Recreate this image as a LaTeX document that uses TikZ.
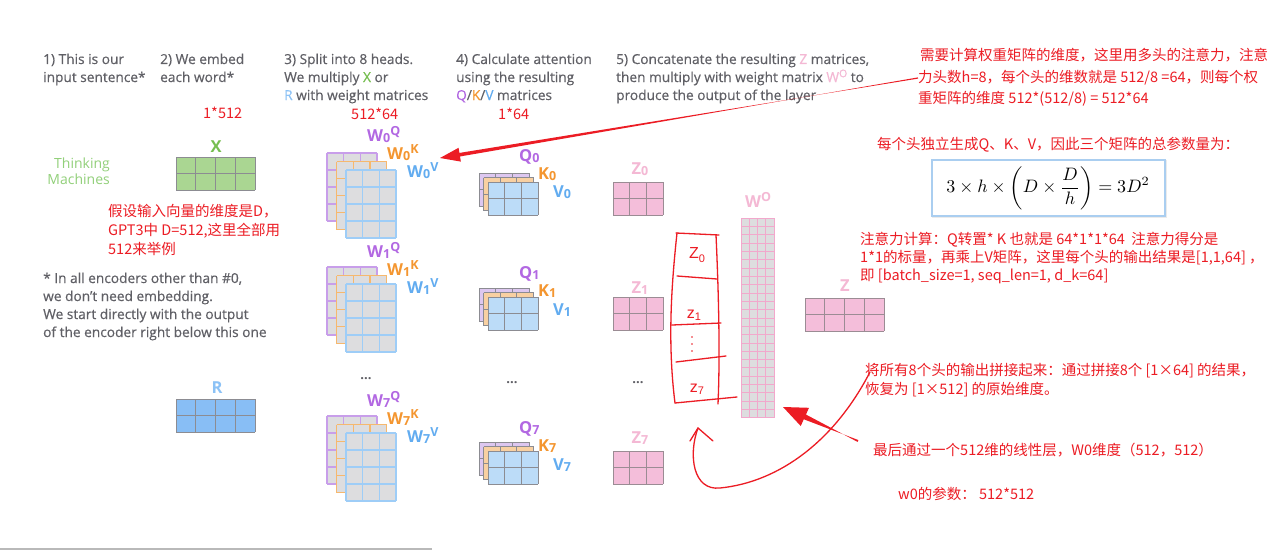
\documentclass[tikz,border=0pt]{standalone}
\usepackage{fontspec}
\newfontfamily\os{Open Sans}
\newfontfamily\osh[FakeBold=0.45]{Open Sans}
\newfontfamily\cjk{Noto Sans CJK SC}
\newfontfamily\hw{Liberation Sans}
\usetikzlibrary{arrows.meta,calc}
\definecolor{hgray}{RGB}{96,96,102}
\definecolor{cgreen}{RGB}{118,190,80}
\definecolor{tgreen}{RGB}{146,208,122}
\definecolor{xfill}{RGB}{170,214,146}
\definecolor{cblue}{RGB}{98,172,240}
\definecolor{rblue}{RGB}{140,194,246}
\definecolor{rfill}{RGB}{136,190,245}
\definecolor{cpurple}{RGB}{178,104,226}
\definecolor{corange}{RGB}{244,150,48}
\definecolor{cpink}{RGB}{244,184,212}
\definecolor{cred}{RGB}{236,28,36}
\definecolor{cellgray}{RGB}{221,221,223}
\definecolor{lpurple}{RGB}{200,158,234}
\definecolor{lorange}{RGB}{246,184,110}
\definecolor{lblue}{RGB}{158,205,247}
\definecolor{qpurple}{RGB}{221,199,240}
\definecolor{korange}{RGB}{248,208,162}
\definecolor{vblue}{RGB}{188,220,248}
\definecolor{zpink}{RGB}{244,190,218}
\definecolor{wpink}{RGB}{242,168,204}
\definecolor{gridgray}{RGB}{140,140,146}
\definecolor{zgrid}{RGB}{155,140,148}
\definecolor{boxblue}{RGB}{170,206,240}
\newcommand\mgrid[8]{%
  \fill[#7] (#1,#2) rectangle ++({#3*#5},{#4*#6});
  \foreach \ii in {0,...,#3}{\draw[#8] ({#1+\ii*#5},#2) -- ++(0,{#4*#6});}
  \foreach \jj in {0,...,#4}{\draw[#8] (#1,{#2+\jj*#6}) -- ++({#3*#5},0);}
}
\newcommand\wl[3]{#1\raisebox{-0.12em}{\fontsize{12.5}{13}\selectfont #2}\raisebox{0.32em}{\fontsize{12.5}{13}\selectfont #3}}
\newcommand\Whead[1]{%
  \mgrid{327}{#1}{3}{4}{16.7}{17}{cellgray}{lpurple,line width=1.3}
  \mgrid{336.5}{#1+8.5}{3}{4}{16.7}{17}{cellgray}{lorange,line width=1.3}
  \mgrid{346}{#1+17}{3}{4}{16.7}{17}{cellgray}{lblue,line width=1.3}
}
\newcommand\QKVhead[1]{%
  \mgrid{479}{#1}{3}{2}{16.7}{16.5}{qpurple}{gridgray,line width=0.9}
  \mgrid{483.5}{#1+4.5}{3}{2}{16.7}{16.5}{korange}{gridgray,line width=0.9}
  \mgrid{488}{#1+9}{3}{2}{16.7}{16.5}{vblue}{gridgray,line width=0.9}
}
\tikzset{
  head/.style={anchor=base west, inner sep=0, text=hgray, font=\osh\fontsize{13.7}{16}\selectfont},
  redt/.style={anchor=base west, inner sep=0, text=cred, font=\cjk\fontsize{14.5}{17}\selectfont},
  lab/.style={anchor=base west, inner sep=0, font=\os\bfseries\fontsize{16.5}{18}\selectfont},
  hand/.style={draw=cred, line width=1.3, line cap=round, line join=round},
  handtxt/.style={inner sep=0, text=cred, font=\hw\fontsize{16}{18}\selectfont},
  dots/.style={inner sep=0, text=hgray, font=\os\bfseries\fontsize{13}{13}\selectfont},
}
\begin{document}
\begin{tikzpicture}[x=1pt,y=-1pt]
\useasboundingbox (0,0) rectangle (1280,551);
\fill[white] (0,0) rectangle (1280,551);

% headings
\node[head] (h1a) at (43,64) {1) This is our};
\node[head] (h1b) at (43,82) {input sentence*};
\node[head] (h2a) at (160,64) {2) We embed};
\node[head] (h2b) at (160,82) {each word*};
\node[head] (h3a) at (284,64) {3) Split into 8 heads.};
\node[head] (h3b) at (284,82) {We multiply \textcolor{cgreen}{X} or};
\node[head] (h3c) at (284,100) {\textcolor{rblue}{R} with weight matrices};
\node[head] (h4a) at (456,64) {4) Calculate attention};
\node[head] (h4b) at (456,82) {using the resulting};
\node[head] (h4c) at (456,100) {\textcolor{cpurple}{Q}/\textcolor{corange}{K}/\textcolor{cblue}{V} matrices};
\node[head] (h5a) at (616,64) {5) Concatenate the resulting \textcolor{cpink}{Z} matrices,};
\node[head] (h5b) at (616,82) {then multiply with weight matrix \textcolor{cpink}{W\raisebox{0.35em}{\fontsize{10.5}{11}\selectfont O}} to};
\node[head] (h5c) at (616,100) {produce the output of the layer};

% footnote
\node[head] (f1) at (43,283) {* In all encoders other than \#0,};
\node[head] (f2) at (43,301) {we don’t need embedding.};
\node[head] (f3) at (43,319) {We start directly with the output};
\node[head] (f4) at (43,337) {of the encoder right below this one};

% input
\node[anchor=base east, inner sep=0, text=tgreen, font=\os\fontsize{14}{16}\selectfont] (tm1) at (110,168) {Thinking};
\node[anchor=base east, inner sep=0, text=tgreen, font=\os\fontsize{14}{16}\selectfont] (tm2) at (110,184) {Machines};

% X and R
\node[lab, anchor=base, text=cgreen] (xl) at (216,152) {X};
\mgrid{176}{157}{4}{2}{19.75}{16.5}{xfill}{gridgray,line width=0.9}
\node[lab, anchor=base, text=rblue] (rl) at (217,393) {R};
\mgrid{176}{399}{4}{2}{19.75}{16.5}{rfill}{gridgray,line width=0.9}

% W heads
\Whead{153}
\Whead{267}
\Whead{416}
\node[lab, text=cpurple] (w0q) at (367,141) {\wl{W}{0}{Q}};
\node[lab, text=corange] (w0k) at (387,159) {\wl{W}{0}{K}};
\node[lab, text=cblue]   (w0v) at (407,177) {\wl{W}{0}{V}};
\node[lab, text=cpurple] (w1q) at (367,257) {\wl{W}{1}{Q}};
\node[lab, text=corange] (w1k) at (387,275) {\wl{W}{1}{K}};
\node[lab, text=cblue]   (w1v) at (407,293) {\wl{W}{1}{V}};
\node[lab, text=cpurple] (w7q) at (367,406) {\wl{W}{7}{Q}};
\node[lab, text=corange] (w7k) at (387,424) {\wl{W}{7}{K}};
\node[lab, text=cblue]   (w7v) at (407,442) {\wl{W}{7}{V}};
\node[dots] (wd) at (366,379) {...};

% QKV heads
\QKVhead{173}
\QKVhead{288}
\QKVhead{442}
\node[lab, text=cpurple] (q0) at (519,161) {\wl{Q}{0}{}};
\node[lab, text=corange] (k0) at (538,179) {\wl{K}{0}{}};
\node[lab, text=cblue]   (v0) at (553,197) {\wl{V}{0}{}};
\node[lab, text=cpurple] (q1) at (519,278) {\wl{Q}{1}{}};
\node[lab, text=corange] (k1) at (538,296) {\wl{K}{1}{}};
\node[lab, text=cblue]   (v1) at (553,315) {\wl{V}{1}{}};
\node[lab, text=cpurple] (q7) at (519,433) {\wl{Q}{7}{}};
\node[lab, text=corange] (k7) at (538,451) {\wl{K}{7}{}};
\node[lab, text=cblue]   (v7) at (553,470) {\wl{V}{7}{}};
\node[dots] (qd) at (512,383) {...};

% Z heads
\mgrid{613}{182}{3}{2}{16.7}{16.5}{zpink}{zgrid,line width=0.9}
\mgrid{613}{297}{3}{2}{16.7}{16.5}{zpink}{zgrid,line width=0.9}
\mgrid{613}{451}{3}{2}{16.7}{16.5}{zpink}{zgrid,line width=0.9}
\node[lab, anchor=base, text=cpink] (z0) at (640,174) {\wl{Z}{0}{}};
\node[lab, anchor=base, text=cpink] (z1) at (640,293) {\wl{Z}{1}{}};
\node[lab, anchor=base, text=cpink] (z7) at (640,443) {\wl{Z}{7}{}};
\node[dots] (zd) at (638,383) {...};

% W^O
\node[lab, anchor=base, text=cpink] (wo) at (758,207) {W\raisebox{0.32em}{\fontsize{12.5}{13}\selectfont O}};
\mgrid{741}{218}{4}{24}{8.25}{8.33}{cellgray}{wpink,line width=0.9}

% final Z
\node[lab, anchor=base, text=cpink] (zf) at (845,291) {Z};
\mgrid{805}{298}{4}{2}{19.75}{16.5}{zpink}{zgrid,line width=0.9}

% red annotations
\node[redt] (d1) at (203,118) {1*512};
\node[redt] (d2) at (351,119) {512*64};
\node[redt] (d3) at (498,119) {1*64};
\node[redt] (l1) at (108,216) {假设输入向量的维度是D，};
\node[redt] (l2) at (108,235) {GPT3中 D=512,这里全部用};
\node[redt] (l3) at (108,254) {512来举例};
\node[redt] (t1) at (920,61) {需要计算权重矩阵的维度，这里用多头的注意力，注意};
\node[redt] (t2) at (918,83) {力头数h=8，每个头的维数就是 512/8 =64，则每个权};
\node[redt] (t3) at (918,103) {重矩阵的维度 512*(512/8) = 512*64};
\node[redt] (p1) at (877,149) {每个头独立生成Q、K、V，因此三个矩阵的总参数量为：};
\node[redt] (a1) at (860,244) {注意力计算：Q转置* K 也就是 64*1*1*64\ \ 注意力得分是};
\node[redt] (a2) at (860,262) {1*1的标量，再乘上V矩阵，这里每个头的输出结果是[1,1,64] ，};
\node[redt] (a3) at (860,280) {即 [batch\_size=1, seq\_len=1, d\_k=64]};
\node[redt] (c1) at (865,375) {将所有8个头的输出拼接起来：通过拼接8个 [1×64] 的结果，};
\node[redt] (c2) at (865,394) {恢复为 [1×512] 的原始维度。};
\node[redt] (o1) at (873,455) {最后通过一个512维的线性层，W0维度（512，512）};
\node[redt] (o2) at (898,499) {w0的参数：\ 512*512};

% formula box
\draw[black!8, line width=2] (933,161) rectangle (1166,217);
\node[draw=boxblue, fill=white, line width=1.1, minimum width=233pt, minimum height=56pt, inner sep=0] (fbox) at (1048.5,188) {};
\node[scale=1.8] (fm) at (1048,188) {$\displaystyle 3\times h\times\left(D\times\frac{D}{h}\right)=3D^2$};

% top arrow (tapered)
\coordinate (ta) at (918,78);
\coordinate (tb) at (440,158);
\coordinate (thb) at ($(tb)!20pt!(ta)$);
\fill[cred] ($(ta)!0.6pt!90:(tb)$) -- ($(thb)!-1.8pt!90:(tb)$) -- ($(thb)!-7pt!90:(tb)$) -- (tb) -- ($(thb)!7pt!90:(tb)$) -- ($(thb)!1.8pt!90:(tb)$) -- ($(ta)!-0.6pt!90:(tb)$) -- cycle;

% lower arrow (tapered)
\coordinate (ua) at (858,441);
\coordinate (ub) at (783,407);
\coordinate (uhb) at ($(ub)!24pt!(ua)$);
\fill[cred] ($(ua)!1pt!90:(ub)$) -- ($(uhb)!-2.6pt!90:(ub)$) -- ($(uhb)!-10pt!90:(ub)$) -- (ub) -- ($(uhb)!10pt!90:(ub)$) -- ($(uhb)!2.6pt!90:(ub)$) -- ($(ua)!-1pt!90:(ub)$) -- cycle;

% handwritten concatenation sketch
\draw[hand] (677,233) .. controls (672,280) and (667,340) .. (675,403);
\draw[hand] (716,235) .. controls (719,300) and (720,360) .. (718,404);
\draw[hand] (676,233) -- (719,235);
\draw[hand] (677,276) -- (717,279);
\draw[hand] (672,325) -- (721,323);
\draw[hand] (676,362) -- (726,356);
\draw[hand] (675,403) -- (737,397);
\node[handtxt] (hz0) at (697,255) {Z\raisebox{-0.25em}{\fontsize{11}{12}\selectfont 0}};
\node[handtxt] (hz1) at (694,315) {z\raisebox{-0.1em}{\fontsize{11}{12}\selectfont 1}};
\fill[cred] (692,337) circle (0.8) (692,344) circle (0.8) (692,351) circle (0.8);
\node[handtxt] (hz7) at (697,389) {z\raisebox{-0.1em}{\fontsize{11}{12}\selectfont 7}};

% handwritten curved arrow
\coordinate (cs) at (870,372);
\coordinate (cm) at (720,488);
\coordinate (ce) at (698,428);
\draw[hand] (cs) .. controls (835,440) and (780,482) .. (cm) .. controls (693,491) and (688,455) .. (ce);
\draw[hand] ($(ce)+(-8,13)$) -- (ce) -- ($(ce)+(15,13)$);

% bottom line
\coordinate (bl0) at (0,549);
\coordinate (bl1) at (432,549);
\draw[gray!55, line width=1.6] (bl0) -- (bl1);
\end{tikzpicture}
\end{document}
